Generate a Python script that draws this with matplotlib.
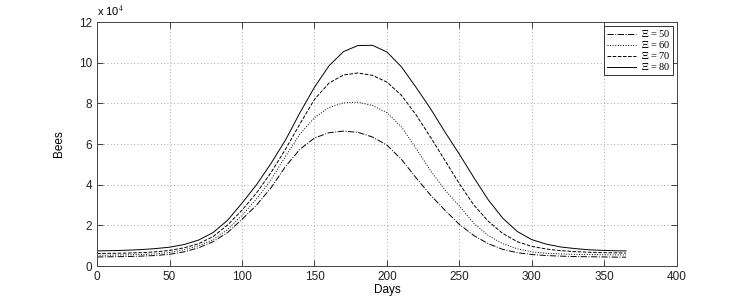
import numpy as np
import matplotlib
matplotlib.use('Agg')
import matplotlib.pyplot as plt

plt.rcParams['font.family'] = ['Liberation Sans', 'DejaVu Sans']
plt.rcParams['mathtext.fontset'] = 'stix'

# days sampled (0..360 step 10, plus 365)
days = list(range(0, 370, 10)) + [365]

# bees in units of 1e4, one list per Xi value
bees_50 = [0.45, 0.46, 0.47, 0.49, 0.52, 0.58, 0.70, 0.90, 1.20, 1.65,
           2.30, 3.00, 3.85, 4.90, 5.75, 6.30, 6.56, 6.64, 6.58, 6.35,
           5.95, 5.25, 4.35, 3.50, 2.75, 2.05, 1.50, 1.10, 0.82, 0.66,
           0.57, 0.52, 0.49, 0.47, 0.46, 0.45, 0.44, 0.44]
bees_60 = [0.53, 0.54, 0.55, 0.57, 0.60, 0.67, 0.80, 1.00, 1.30, 1.80,
           2.50, 3.30, 4.25, 5.40, 6.50, 7.30, 7.80, 8.03, 8.06, 7.90,
           7.55, 6.85, 5.80, 4.70, 3.75, 2.95, 2.10, 1.50, 1.10, 0.85,
           0.70, 0.63, 0.60, 0.58, 0.57, 0.56, 0.55, 0.55]
bees_70 = [0.62, 0.63, 0.64, 0.66, 0.70, 0.77, 0.90, 1.10, 1.45, 2.02,
           2.75, 3.60, 4.60, 5.75, 7.00, 8.20, 9.00, 9.40, 9.50, 9.38,
           9.05, 8.40, 7.45, 6.35, 5.20, 4.05, 3.00, 2.20, 1.60, 1.20,
           0.97, 0.84, 0.76, 0.71, 0.68, 0.66, 0.65, 0.64]
bees_80 = [0.75, 0.76, 0.78, 0.81, 0.86, 0.93, 1.06, 1.28, 1.65, 2.25,
           3.10, 4.00, 5.05, 6.20, 7.55, 8.80, 9.85, 10.55, 10.85, 10.86,
           10.53, 9.80, 8.80, 7.75, 6.60, 5.50, 4.35, 3.25, 2.35, 1.70,
           1.30, 1.08, 0.94, 0.86, 0.80, 0.77, 0.75, 0.75]

labels = [r'$\Xi$ = 50', r'$\Xi$ = 60', r'$\Xi$ = 70', r'$\Xi$ = 80']
styles = ['-.', ':', '--', '-']

fig = plt.figure(figsize=(7.47, 2.99), dpi=100)
ax = fig.add_axes([0.130, 0.110, 0.776, 0.816])

for y, ls, lab in zip([bees_50, bees_60, bees_70, bees_80], styles, labels):
    ax.plot(days, y, color='k', linestyle=ls, linewidth=0.7, label=lab)

ax.set_xlim(0, 400)
ax.set_ylim(0, 12)
ax.set_xticks(np.arange(0, 401, 50))
ax.set_yticks(np.arange(0, 13, 2))
ax.tick_params(direction='in', top=True, right=True, labelsize=8.5, length=4,
               width=0.6, colors='#222222')
ax.grid(True, linestyle=(0, (1, 3)), linewidth=0.6, color='#888888')
plt.setp(ax.spines.values(), linewidth=0.7, color='#444444')

ax.set_xlabel('Days', fontsize=8.5, labelpad=1)
ax.set_ylabel('Bees', fontsize=8.5, labelpad=10)
ax.text(0.0, 1.012, r'x 10$^4$', transform=ax.transAxes, fontsize=8,
        ha='left', va='bottom')

leg = ax.legend(loc='upper right', handlelength=2.8, borderpad=0.25,
                labelspacing=0.0, handletextpad=0.5, fancybox=False,
                framealpha=1, borderaxespad=0.35,
                prop={'family': 'Liberation Serif', 'size': 7.5})
leg.get_frame().set_edgecolor('#333333')
leg.get_frame().set_linewidth(0.7)

fig.savefig('out.png', dpi=100)
